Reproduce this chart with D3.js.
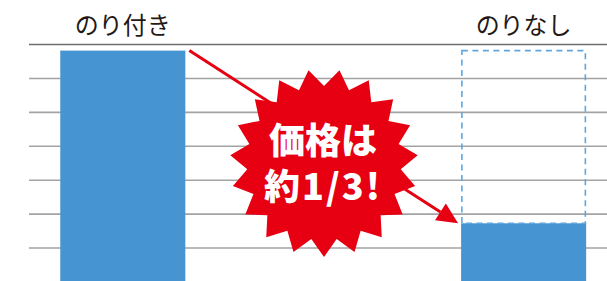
<!DOCTYPE html>
<html lang="ja">
<head>
<meta charset="UTF-8">
<title>のり 価格比較</title>
<script src="https://d3js.org/d3.v7.min.js"></script>
<style>
  body { margin: 0; background: #fff; }
  svg { display: block; }
  .cat { font-family: "Noto Sans CJK JP", sans-serif; font-size: 24px; fill: #231815; }
  .badge { font-family: "Noto Sans CJK JP", sans-serif; font-weight: 900; fill: #fff; }
</style>
</head>
<body>
<div id="chart"></div>
<script>
// data
var categories = ['のり付き', 'のりなし'];
var prices = [6.82, 1.73];        // bar heights (grid units)
var ghostPrice = 6.82;            // dashed outline on the right = old price
var gridTicks = [1, 2, 3, 4, 5, 6, 7];
var badgeLines = ['価格は', '約1/3!'];

var w = 607, h = 281;

var svg = d3.select('#chart').append('svg')
    .attr('width', w)
    .attr('height', h);

var x = d3.scaleBand()
    .domain(categories)
    .range([29, 607])
    .paddingInner(0.688)
    .paddingOuter(0.065)
    .align(0.6);

var y = d3.scaleLinear()
    .domain([0, 7])
    .range([282, 44.5]);

// grid lines
svg.selectAll('line.grid')
    .data(gridTicks)
    .enter()
    .append('line')
    .attr('class', 'grid')
    .attr('x1', 29)
    .attr('x2', w)
    .attr('y1', function (d) { return y(d); })
    .attr('y2', function (d) { return y(d); })
    .attr('stroke', function (d) { return d === 7 ? '#6e6e6e' : '#a3a3a3'; })
    .attr('stroke-width', 1.6);

// bars
svg.selectAll('rect.bar')
    .data(prices)
    .enter()
    .append('rect')
    .attr('class', 'bar')
    .attr('x', function (d, i) { return x(categories[i]); })
    .attr('y', function (d) { return y(d); })
    .attr('width', x.bandwidth())
    .attr('height', function (d) { return y(0) - y(d); })
    .attr('fill', '#4694d1');

// dashed outline of the old price above the second bar
svg.append('rect')
    .attr('x', x(categories[1]) + 0.8)
    .attr('y', y(ghostPrice))
    .attr('width', x.bandwidth() - 1.6)
    .attr('height', y(prices[1]) - y(ghostPrice))
    .attr('fill', 'none')
    .attr('stroke', '#5fa6de')
    .attr('stroke-width', 1.6)
    .attr('stroke-dasharray', '6,4.5');

// category labels
svg.selectAll('text.cat')
    .data(categories)
    .enter()
    .append('text')
    .attr('class', 'cat')
    .attr('x', function (d) { return x(d) + x.bandwidth() / 2; })
    .attr('y', 34)
    .attr('text-anchor', 'middle')
    .text(function (d) { return d; });

// red arrow from top of first bar to top of second
var red = '#e60012';
var x0 = x(categories[0]) + x.bandwidth() + 4, y0 = y(prices[0]);
var x1 = x(categories[1]) - 3, y1 = y(prices[1]);
var ang = Math.atan2(y1 - y0, x1 - x0);
var headLen = 21, headHalf = 10;
var bx = x1 - headLen * Math.cos(ang), by = y1 - headLen * Math.sin(ang);

svg.append('line')
    .attr('x1', x0).attr('y1', y0)
    .attr('x2', bx).attr('y2', by)
    .attr('stroke', red)
    .attr('stroke-width', 3);

svg.append('path')
    .attr('d', d3.line()([
        [x1, y1],
        [bx - headHalf * Math.sin(ang), by + headHalf * Math.cos(ang)],
        [bx + headHalf * Math.sin(ang), by - headHalf * Math.cos(ang)]
    ]) + 'Z')
    .attr('fill', red);

// starburst badge
var cx = 324, cy = 163, rOut = 94, rIn = 77, spikes = 19;
var pts = d3.range(spikes * 2).map(function (i) {
    var a = Math.PI / 2 + i * Math.PI / spikes;
    var r = i % 2 === 0 ? rOut : rIn;
    return [cx + r * Math.cos(a), cy + r * Math.sin(a)];
});
svg.append('path')
    .attr('d', d3.line()(pts) + 'Z')
    .attr('fill', red);

svg.selectAll('text.badge')
    .data(badgeLines)
    .enter()
    .append('text')
    .attr('class', 'badge')
    .attr('x', 323)
    .attr('y', function (d, i) { return 154 + i * 46; })
    .attr('text-anchor', 'middle')
    .attr('font-size', 36)
    .attr('letter-spacing', function (d, i) { return i === 1 ? 2 : 0; })
    .text(function (d) { return d; });
</script>
</body>
</html>
